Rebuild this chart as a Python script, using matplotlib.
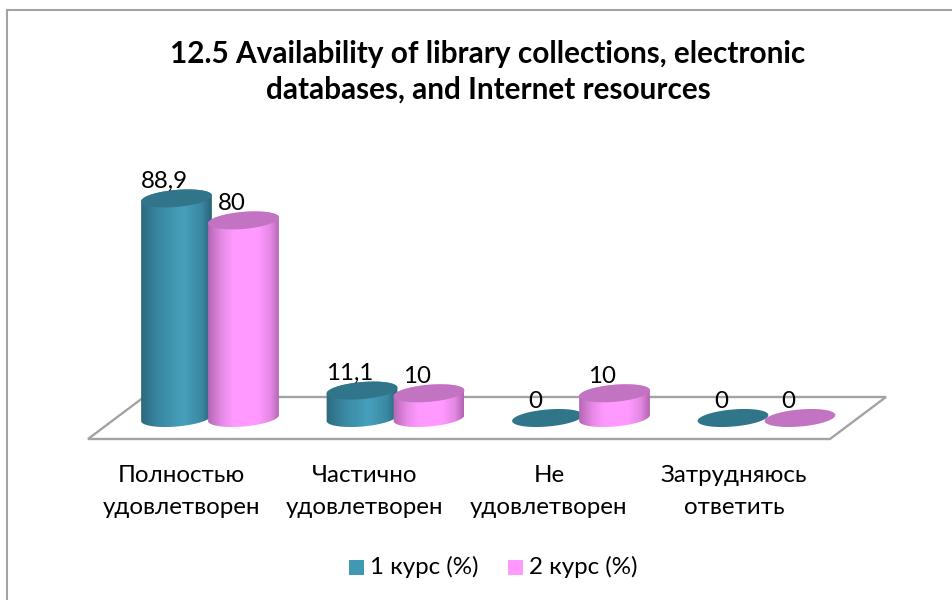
import numpy as np
import matplotlib
matplotlib.use("Agg")
import matplotlib.pyplot as plt
from matplotlib.colors import LinearSegmentedColormap
from matplotlib.patches import Polygon, PathPatch, Rectangle
from matplotlib.path import Path
from matplotlib.transforms import IdentityTransform

plt.rcParams["font.family"] = ["Lato", "DejaVu Sans"]

# data
categories = ["Полностью\nудовлетворен", "Частично\nудовлетворен", "Не\nудовлетворен", "Затрудняюсь\nответить"]
course_1 = [88.9, 11.1, 0, 0]
course_2 = [80, 10, 10, 0]
labels_1 = ["88,9", "11,1", "0", "0"]
labels_2 = ["80", "10", "10", "0"]
series_names = ["1 курс (%)", "2 курс (%)"]
title = "12.5 Availability of library collections, electronic\ndatabases, and Internet resources"

W, H = 953, 600
GRAY = "#A3A3A3"
TEAL_TOP = "#31758A"
PINK_TOP = "#C274C2"
TEAL = "#4198B3"
PINK = "#FF99FF"
teal_map = LinearSegmentedColormap.from_list("teal", [(0, "#2C6A7E"), (0.25, "#3A88A3"), (0.6, "#46A0BC"), (0.85, "#3A88A3"), (1, "#2A6478")])
pink_map = LinearSegmentedColormap.from_list("pink", [(0, "#B566B5"), (0.2, "#E78BE7"), (0.35, "#FF99FF"), (0.7, "#FF99FF"), (0.87, "#E488E4"), (1, "#B163B1")])

# geometry, in pixels of the picture
HALF_W = 35.5
HALF_H = 8.5
TILT = np.radians(5)
PX_PER_UNIT = 2.47
GROUP_STEP = 185.5
OFFSET = 33.5
FONT = 17.4


def to_fig(x, y):
    return x / W, 1 - y / H


fig = plt.figure(figsize=(W / 100, H / 100), dpi=100, facecolor="white")
ax = fig.add_axes([0, 0, 1, 1])
# category 0 sits at x=210, value 0 sits at y=418
ax.set_xlim(-210 / GROUP_STEP, (W - 210) / GROUP_STEP)
ax.set_ylim(-(H - 418) / PX_PER_UNIT, 418 / PX_PER_UNIT)
ax.axis("off")

# outer frame
fig.add_artist(plt.Line2D([7.5 / W, 7.5 / W], [0, 1 - 9.5 / H], color=GRAY, lw=1.5))
fig.add_artist(plt.Line2D([7 / W, 1], [1 - 10 / H, 1 - 10 / H], color=GRAY, lw=1.5))

# floor
floor = [(88, 439), (830, 439), (886, 397), (144, 397)]
ax.add_patch(Polygon([to_fig(*p) for p in floor], closed=True, fill=False, edgecolor=GRAY, lw=1.7,
                     transform=fig.transFigure, zorder=1))


def ellipse_points(cx, cy, t):
    xs = cx + HALF_W * np.cos(t) * np.cos(TILT) - HALF_H * np.sin(t) * np.sin(TILT)
    ys = cy + HALF_W * np.cos(t) * np.sin(TILT) + HALF_H * np.sin(t) * np.cos(TILT)
    return np.column_stack([xs, ys])


def cylinder(i, value, side, cmap, top_color, z):
    cx, base = ax.transData.transform((i, 0))
    _, top = ax.transData.transform((i, value))
    cx = cx + side * OFFSET
    if value > 0:
        lower = ellipse_points(cx, base, np.linspace(np.pi, 2 * np.pi, 80))
        upper = ellipse_points(cx, top, np.linspace(0, np.pi, 80))
        body = Path(np.vstack([lower, upper, lower[:1]]), closed=True)
        patch = PathPatch(body, facecolor="none", edgecolor="none", transform=IdentityTransform(), zorder=z)
        ax.add_patch(patch)
        x0 = ax.transData.inverted().transform((cx - HALF_W, 0))[0]
        x1 = ax.transData.inverted().transform((cx + HALF_W, 0))[0]
        grad = np.linspace(0, 1, 256).reshape(1, -1)
        im = ax.imshow(grad, cmap=cmap, extent=[x0, x1, -5, value + 8], aspect="auto", zorder=z)
        im.set_clip_path(patch)
    cap = Polygon(ellipse_points(cx, top, np.linspace(0, 2 * np.pi, 120)), closed=True, facecolor=top_color,
                  edgecolor="none", transform=IdentityTransform(), zorder=z + 0.1)
    ax.add_patch(cap)


z = 2
label_x = [181.5, 365, 549, 734]
for i in range(len(categories)):
    cylinder(i, course_1[i], -1, teal_map, TEAL_TOP, z)
    cylinder(i, course_2[i], 1, pink_map, PINK_TOP, z + 0.2)
    ax.annotate(labels_1[i], (i, course_1[i]), xytext=(-OFFSET - 12, 17), textcoords="offset pixels",
                ha="center", va="center", fontsize=FONT, color="black", zorder=5)
    ax.annotate(labels_2[i], (i, course_2[i]), xytext=(OFFSET - 12, 17), textcoords="offset pixels",
                ha="center", va="center", fontsize=FONT, color="black", zorder=5)
    # category labels
    first, second = categories[i].split("\n")
    fig.text(label_x[i] / W, 1 - 476 / H, first, ha="center", va="center", fontsize=FONT)
    fig.text(label_x[i] / W, 1 - 508 / H, second, ha="center", va="center", fontsize=FONT)

ax.set_xlim(ax.get_xlim())
ax.set_ylim(ax.get_ylim())

fig.text(488 / W, 1 - 71.5 / H, title, ha="center", va="center", fontsize=21.4, fontweight="bold", linespacing=1.32)

# legend
fig.add_artist(Rectangle(to_fig(349, 575), 15 / W, 15 / H, facecolor=TEAL, edgecolor="none", transform=fig.transFigure))
fig.text(370 / W, 1 - 567 / H, series_names[0], ha="left", va="center", fontsize=FONT)
fig.add_artist(Rectangle(to_fig(508, 575), 15 / W, 15 / H, facecolor=PINK, edgecolor="none", transform=fig.transFigure))
fig.text(529 / W, 1 - 567 / H, series_names[1], ha="left", va="center", fontsize=FONT)

fig.savefig("out.png", dpi=100)
